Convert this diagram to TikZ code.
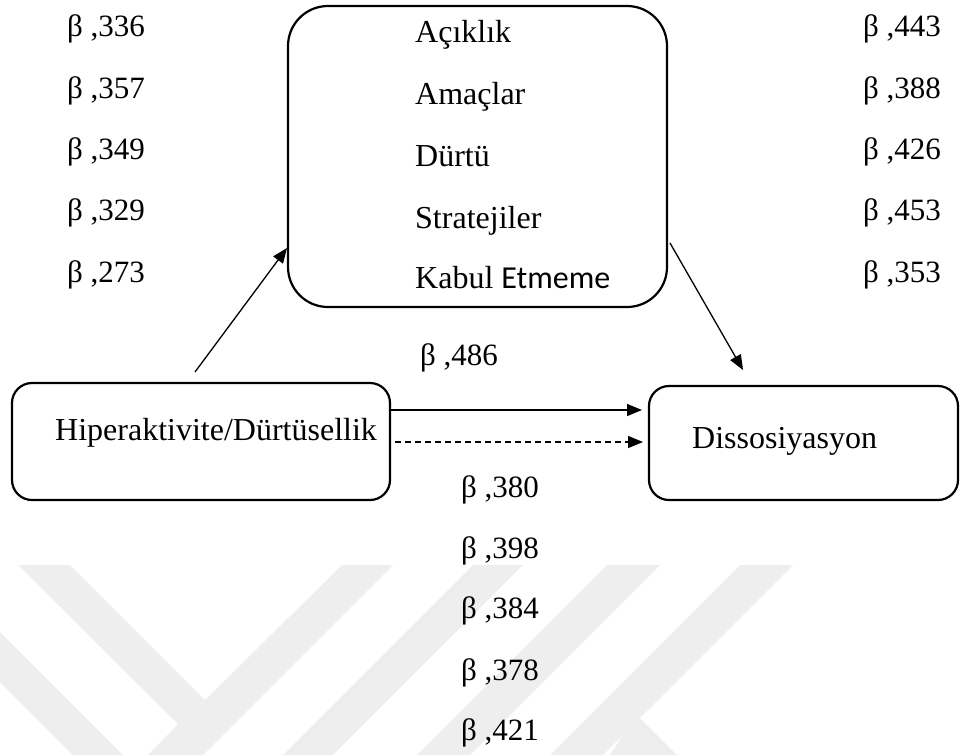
\documentclass[tikz,border=0pt]{standalone}
\usepackage{fontspec}
\setmainfont{Liberation Serif}
\newfontfamily\calibrifont{Carlito}
\usetikzlibrary{arrows.meta,positioning}
\definecolor{wmgray}{gray}{0.935}
\tikzset{
  txt/.style={anchor=base west,inner sep=0pt,font=\fontsize{31}{37}\selectfont},
  btxt/.style={txt,font=\fontsize{32}{38}\selectfont},
  boxshape/.style={draw,line width=2.2pt,rectangle,inner sep=0pt},
  conn/.style={line width=1.3pt,-{Triangle[length=15pt,width=12pt]}},
  dashconn/.style={conn,dash pattern=on 6pt off 4pt},
  wmark/.style={fill=wmgray,draw=none}
}
\begin{document}
\begin{tikzpicture}[x=1pt,y=-1pt]
\useasboundingbox (0,0) rectangle (960,755);
% watermark
\fill[wmark] (18,565) -- (70,565) -- (205,700) -- (342,565) -- (393,565) -- (203,755) -- (148,755) -- (178,724) -- cycle;
\fill[wmark] (0,632) -- (123,755) -- (73,755) -- (0,682) -- cycle;
\fill[wmark] (473,565) -- (523,565) -- (333,755) -- (283,755) -- cycle;
\fill[wmark] (607,565) -- (660,565) -- (470,755) -- (417,755) -- cycle;
\fill[wmark] (740,565) -- (793,565) -- (603,755) -- (550,755) -- cycle;
\fill[wmark] (640,718) -- (677,755) -- (610,755) -- (622,736) -- cycle;
% boxes
\node[boxshape,rounded corners=40pt,minimum width=379pt,minimum height=301pt] (top) at (477.5,156.5) {};
\node[boxshape,rounded corners=20pt,minimum width=378pt,minimum height=117pt] (left) at (201,441.5) {};
\node[boxshape,rounded corners=20pt,minimum width=309pt,minimum height=114pt] (right) at (803.5,443) {};
% box texts
\node[btxt] (t1) at (415,42) {Açıklık};
\node[btxt] (t2) at (415,104) {Amaçlar};
\node[btxt] (t3) at (415,166) {Dürtü};
\node[btxt] (t4) at (415,228) {Stratejiler};
\node[btxt] (t5) at (415,288) {Kabul {\calibrifont Etmeme}};
\node[btxt] (hip) at (55,440) {Hiperaktivite/Dürtüsellik};
\node[btxt] (dis) at (692,448) {Dissosiyasyon};
% left betas
\node[txt] (l1) at (67,36) {β ,336};
\node[txt] (l2) at (67,98) {β ,357};
\node[txt] (l3) at (67,159) {β ,349};
\node[txt] (l4) at (67,220) {β ,329};
\node[txt] (l5) at (67,282) {β ,273};
% right betas
\node[txt] (r1) at (863,36) {β ,443};
\node[txt] (r2) at (863,98) {β ,388};
\node[txt] (r3) at (863,159) {β ,426};
\node[txt] (r4) at (863,220) {β ,453};
\node[txt] (r5) at (863,282) {β ,353};
% direct
\node[txt] (d0) at (420,365) {β ,486};
% bottom betas
\node[txt] (b1) at (461,497) {β ,380};
\node[txt] (b2) at (461,558) {β ,398};
\node[txt] (b3) at (461,618) {β ,384};
\node[txt] (b4) at (461,680) {β ,378};
\node[txt] (b5) at (461,740) {β ,421};
% connectors
\coordinate (upstart) at (195,372);
\coordinate (upend) at (287,248);
\coordinate (downstart) at (670,243);
\coordinate (downend) at (743,370);
\coordinate (solidend) at (642,410);
\coordinate (dashstart) at (395,442);
\coordinate (dashend) at (643,442);
\draw[conn] (upstart) -- (upend);
\draw[conn] (downstart) -- (downend);
\draw[conn] (left.east |- solidend) -- (solidend);
\draw[dashconn] (dashstart) -- (dashend);
\end{tikzpicture}
\end{document}
